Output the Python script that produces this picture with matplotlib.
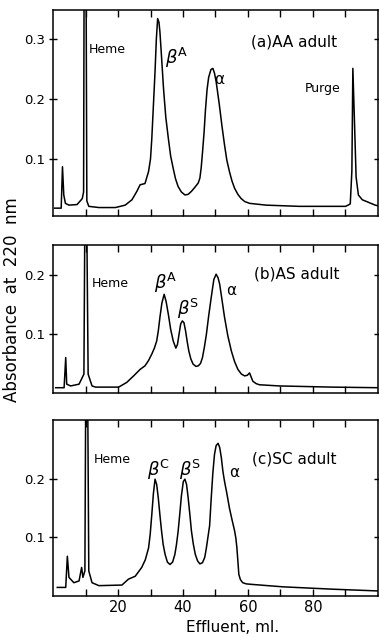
import matplotlib
matplotlib.use('Agg')
import matplotlib.pyplot as plt

# (effluent ml, absorbance)
trace_a = [(0.5, 0.018), (2.5, 0.018), (2.9, 0.087), (3.3, 0.04), (3.8, 0.026), (4.9, 0.023),
           (7.4, 0.024), (9.0, 0.034), (9.4, 0.045), (9.6, 0.5), (10.1, 0.5), (10.4, 0.03),
           (11.0, 0.021), (14.1, 0.019), (19.2, 0.019), (22.2, 0.023), (24.3, 0.032), (25.8, 0.046),
           (26.8, 0.057), (28.3, 0.059), (29.4, 0.079), (30.0, 0.10), (30.4, 0.134), (30.9, 0.19),
           (31.4, 0.246), (31.8, 0.30), (32.2, 0.334), (32.6, 0.328), (32.9, 0.312), (33.4, 0.27),
           (34.0, 0.218), (34.7, 0.17), (35.5, 0.134), (36.2, 0.105), (37.0, 0.084), (37.7, 0.067),
           (38.5, 0.054), (39.5, 0.045), (40.6, 0.040), (41.6, 0.041), (42.6, 0.046), (43.7, 0.053),
           (44.7, 0.06), (45.2, 0.068), (45.6, 0.085), (46.0, 0.11), (46.5, 0.145), (46.9, 0.18),
           (47.4, 0.215), (47.9, 0.236), (48.6, 0.249), (49.2, 0.251), (49.7, 0.243), (50.2, 0.229),
           (50.7, 0.21), (51.2, 0.19), (52.0, 0.155), (52.8, 0.123), (53.5, 0.098), (54.3, 0.079),
           (55.1, 0.063), (55.9, 0.051), (56.9, 0.041), (57.9, 0.034), (59.0, 0.029), (60.5, 0.026),
           (65.6, 0.023), (75.8, 0.021), (90.1, 0.021), (91.5, 0.025), (92.0, 0.08), (92.3, 0.251),
           (92.7, 0.18), (93.3, 0.07), (94.0, 0.04), (95.2, 0.032), (99.2, 0.023), (100, 0.022)]

trace_b = [(0.8, 0.009), (3.4, 0.009), (3.9, 0.06), (4.2, 0.015), (5.4, 0.012), (8.0, 0.015),
           (9.5, 0.032), (9.9, 0.4), (10.2, 0.4), (10.8, 0.032), (12.0, 0.012), (13.1, 0.01),
           (20.2, 0.01), (22.7, 0.018), (24.8, 0.029), (26.8, 0.04), (28.3, 0.046), (29.4, 0.055),
           (30.4, 0.066), (31.2, 0.076), (31.9, 0.088), (32.4, 0.105), (32.9, 0.128), (33.5, 0.152),
           (34.2, 0.167), (34.8, 0.155), (35.5, 0.133), (36.2, 0.108), (37.0, 0.088), (37.8, 0.076),
           (38.3, 0.082), (38.8, 0.1), (39.3, 0.117), (39.8, 0.122), (40.3, 0.119), (40.8, 0.105),
           (41.3, 0.087), (41.8, 0.071), (42.4, 0.058), (43.1, 0.049), (44.0, 0.045), (44.7, 0.046),
           (45.4, 0.05), (46.0, 0.06), (46.6, 0.078), (47.2, 0.099), (47.9, 0.13), (48.7, 0.162),
           (49.5, 0.192), (50.2, 0.201), (50.8, 0.195), (51.3, 0.184), (52.0, 0.158), (52.8, 0.128),
           (53.8, 0.097), (54.9, 0.071), (55.9, 0.053), (56.9, 0.04), (58.0, 0.032), (59.0, 0.029),
           (59.8, 0.03), (60.5, 0.034), (61.0, 0.027), (61.5, 0.02), (62.5, 0.016), (63.5, 0.014),
           (69.6, 0.012), (85.9, 0.01), (100, 0.009)]

trace_c = [(1.3, 0.015), (3.9, 0.015), (4.4, 0.068), (4.9, 0.032), (6.4, 0.023), (8.0, 0.026),
           (8.8, 0.049), (9.2, 0.032), (9.8, 0.043), (10.1, 0.4), (10.6, 0.4), (11.0, 0.043),
           (12.0, 0.023), (14.1, 0.018), (21.2, 0.019), (23.2, 0.029), (25.3, 0.034), (27.3, 0.049),
           (28.4, 0.062), (29.4, 0.082), (29.9, 0.105), (30.4, 0.139), (30.9, 0.175), (31.4, 0.199),
           (31.9, 0.19), (32.4, 0.167), (32.9, 0.138), (33.4, 0.111), (33.9, 0.088), (34.5, 0.071),
           (35.2, 0.058), (36.0, 0.054), (36.8, 0.058), (37.5, 0.071), (38.0, 0.088), (38.5, 0.11),
           (39.0, 0.139), (39.5, 0.17), (40.1, 0.195), (40.6, 0.199), (41.1, 0.19), (41.6, 0.167),
           (42.1, 0.14), (42.6, 0.111), (43.2, 0.088), (43.8, 0.071), (44.5, 0.06), (45.2, 0.055),
           (46.0, 0.057), (46.7, 0.066), (47.2, 0.082), (48.2, 0.12), (48.7, 0.167), (49.2, 0.21),
           (49.7, 0.241), (50.2, 0.256), (50.8, 0.26), (51.3, 0.253), (51.8, 0.236), (52.3, 0.212),
           (52.8, 0.195), (53.5, 0.175), (54.3, 0.15), (55.1, 0.13), (55.9, 0.111), (56.3, 0.098),
           (56.6, 0.082), (56.9, 0.06), (57.2, 0.037), (57.7, 0.028), (58.4, 0.023), (59.5, 0.021),
           (61.5, 0.02), (70.7, 0.016), (86.0, 0.012), (100, 0.009)]

x_ticks = [10, 20, 30, 40, 50, 60, 70, 80, 90]
x_labels = ['', '20', '', '40', '', '60', '', '80', '']


def style(ax, ylim, yticks):
    ax.set_xlim(0, 100)
    ax.set_ylim(*ylim)
    ax.set_xticks(x_ticks)
    ax.set_yticks(yticks)
    ax.set_yticklabels(['%.1f' % v for v in yticks], fontsize=9.5)
    ax.tick_params(direction='in', length=5, width=1, top=True, right=True, pad=3)
    ax.tick_params(axis='y', direction='inout', length=6)
    for s in ax.spines.values():
        s.set_linewidth(1.1)


def draw(ax, trace):
    ml, ab = zip(*trace)
    ax.plot(ml, ab, color='black', lw=1.1)


def main():
    fig = plt.figure(figsize=(3.79, 6.37), dpi=100)
    left, width = 0.140, 0.857

    ax1 = fig.add_axes([left, 0.661, width, 0.323])
    draw(ax1, trace_a)
    style(ax1, (0.005, 0.348), [0.1, 0.2, 0.3])
    ax1.set_xticklabels([])
    ax1.text(11, 0.282, 'Heme', fontsize=9, va='center')
    ax1.text(34.5, 0.268, r'$\beta^{\rm A}$', fontsize=13, va='center')
    ax1.text(49.5, 0.232, 'α', fontsize=11, va='center')
    ax1.text(77.5, 0.217, 'Purge', fontsize=9, va='center')
    ax1.text(61, 0.295, '(a)AA adult', fontsize=11, va='center')

    ax2 = fig.add_axes([left, 0.383, width, 0.232])
    draw(ax2, trace_b)
    style(ax2, (0, 0.25), [0.1, 0.2])
    ax2.set_xticklabels([])
    ax2.text(11.8, 0.185, 'Heme', fontsize=9, va='center')
    ax2.text(31.0, 0.186, r'$\beta^{\rm A}$', fontsize=13, va='center')
    ax2.text(38.2, 0.142, r'$\beta^{\rm S}$', fontsize=13, va='center')
    ax2.text(53.4, 0.173, 'α', fontsize=11, va='center')
    ax2.text(62, 0.202, '(b)AS adult', fontsize=11, va='center')

    ax3 = fig.add_axes([left, 0.064, width, 0.277])
    draw(ax3, trace_c)
    style(ax3, (0, 0.30), [0.1, 0.2])
    ax3.set_xticklabels(x_labels, fontsize=10.5)
    ax3.text(12.4, 0.232, 'Heme', fontsize=9, va='center')
    ax3.text(28.8, 0.215, r'$\beta^{\rm C}$', fontsize=13, va='center')
    ax3.text(38.8, 0.215, r'$\beta^{\rm S}$', fontsize=13, va='center')
    ax3.text(54.3, 0.210, 'α', fontsize=11, va='center')
    ax3.text(61.4, 0.234, '(c)SC adult', fontsize=11, va='center')

    fig.text(233 / 379, 1 - 627 / 637, 'Effluent, ml.', fontsize=11, ha='center', va='center')
    fig.text(12 / 379, 1 - 300 / 637, 'Absorbance  at  220  nm', fontsize=12,
             rotation=90, ha='center', va='center')

    fig.savefig('out.png', dpi=100)


if __name__ == '__main__':
    main()
